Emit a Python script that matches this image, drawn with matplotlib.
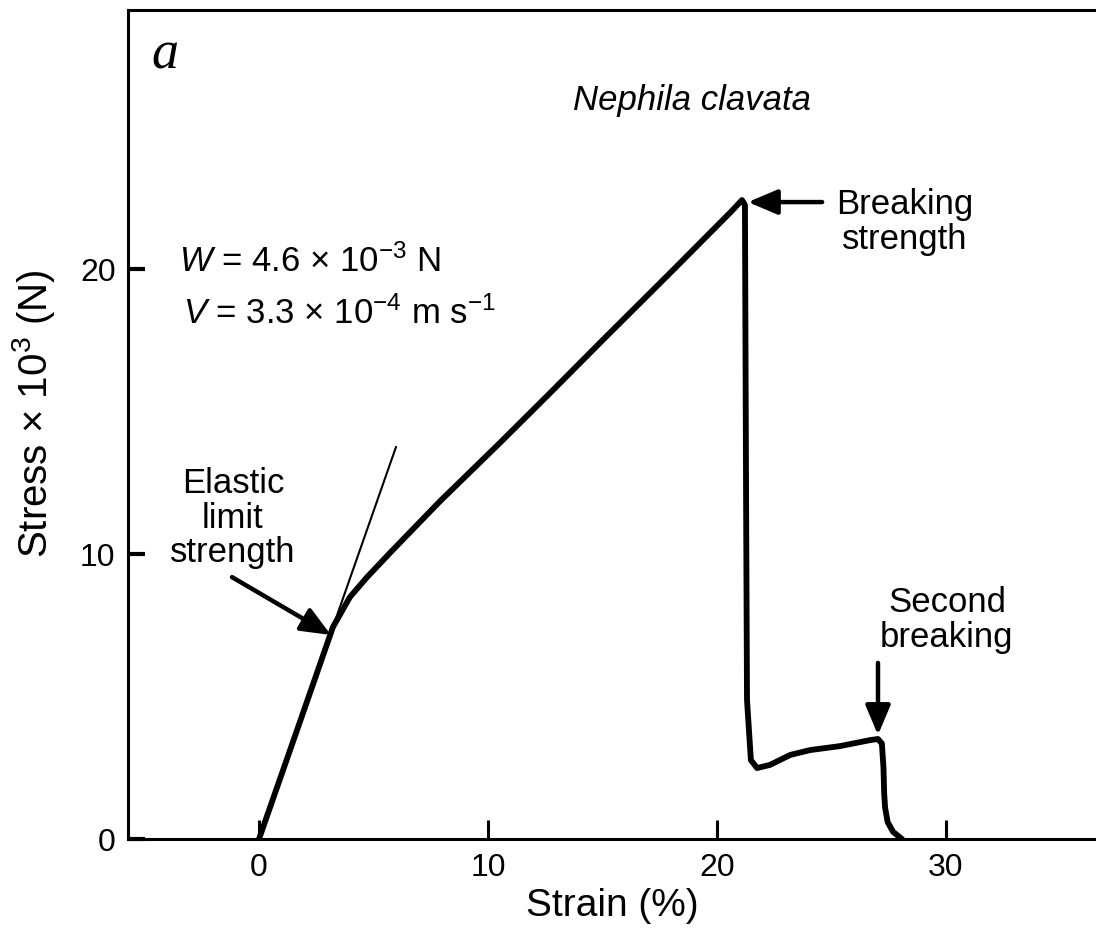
import matplotlib.pyplot as plt

plt.rcParams['font.family'] = ['Liberation Sans', 'DejaVu Sans']
plt.rcParams['mathtext.fontset'] = 'custom'
plt.rcParams['mathtext.rm'] = 'Liberation Sans'
plt.rcParams['mathtext.it'] = 'Liberation Sans:italic'
plt.rcParams['mathtext.bf'] = 'Liberation Sans:bold'

# ── Data ──────────────────────────────────────────────────────────────────
strain = [0.0, 1.5, 3.23, 3.97, 4.72, 5.72, 7.90, 10.52, 12.71, 15.0,
          18.0, 20.6, 21.09, 21.22, 21.27, 21.31, 21.48, 21.75, 22.31,
          23.2, 24.06, 25.37, 26.68, 27.03, 27.2, 27.27, 27.3, 27.34,
          27.45, 27.69, 28.08]
stress = [0.0, 3.45, 7.44, 8.49, 9.19, 10.04, 11.85, 13.9, 15.65, 17.5,
          19.9, 22.0, 22.42, 22.25, 12.0, 4.88, 2.77, 2.49, 2.6,
          2.95, 3.12, 3.26, 3.47, 3.51, 3.35, 2.5, 1.6, 1.1,
          0.6, 0.25, 0.0]

tangent_x = [3.23, 5.98]
tangent_y = [7.44, 13.75]

x_ticks = [0, 10, 20, 30]
y_ticks = [0, 10, 20]

fig = plt.figure(figsize=(10.96, 9.34), dpi=100)
ax = fig.add_axes([0.1168, 0.1017, 0.8832, 0.8876])

ax.plot(strain, stress, color='black', linewidth=4.2,
        solid_joinstyle='round', solid_capstyle='round')
ax.plot(tangent_x, tangent_y, color='black', linewidth=1.5)

ax.set_xlim(-5.72, 36.55)
ax.set_ylim(0, 29.09)
ax.set_xticks(x_ticks)
ax.set_yticks(y_ticks)
ax.tick_params(axis='x', direction='in', length=14, width=2.2,
               labelsize=23, pad=10)
ax.tick_params(axis='y', direction='in', length=12, width=3.0,
               labelsize=23, pad=9)
for side in ['left', 'bottom', 'top']:
    ax.spines[side].set_linewidth(2.2)
ax.spines['right'].set_visible(False)

ax.set_xlabel('Strain (%)', fontsize=28, labelpad=4)
ax.set_ylabel('Stress × 10$^3$ (N)', fontsize=29)
ax.yaxis.set_label_coords(-0.073, 0.513)

# ── Annotations ───────────────────────────────────────────────────────────
ax.text(-4.10, 27.5, 'a', fontsize=39, family='Liberation Serif',
        style='italic', ha='center', va='center')
ax.text(18.9, 25.9, 'Nephila clavata', fontsize=25, style='italic',
        ha='center', va='center')
ax.text(-3.5, 20.25, '$W$ = 4.6 × 10$^{-3}$ N', fontsize=25,
        ha='left', va='center')
ax.text(-3.3, 18.45, '$V$ = 3.3 × 10$^{-4}$ m s$^{-1}$', fontsize=25,
        ha='left', va='center')

ax.text(-1.14, 11.26, 'Elastic\nlimit\nstrength', fontsize=25,
        ha='center', va='center', linespacing=1.05)
ax.text(28.2, 21.65, 'Breaking\nstrength', fontsize=25,
        ha='center', va='center', linespacing=1.05)
ax.text(30.04, 7.68, 'Second\nbreaking', fontsize=25,
        ha='center', va='center', linespacing=1.05)

arrow = dict(arrowstyle='-|>,head_length=0.9,head_width=0.38',
             mutation_scale=20, color='black', lw=3.2,
             shrinkA=0, shrinkB=0)
ax.annotate('', xy=(3.14, 7.16), xytext=(-1.18, 9.19), arrowprops=arrow)
ax.annotate('', xy=(21.35, 22.35), xytext=(24.59, 22.35), arrowprops=arrow)
ax.annotate('', xy=(27.03, 3.65), xytext=(27.03, 6.18), arrowprops=arrow)

plt.savefig('out.png', dpi=100)
